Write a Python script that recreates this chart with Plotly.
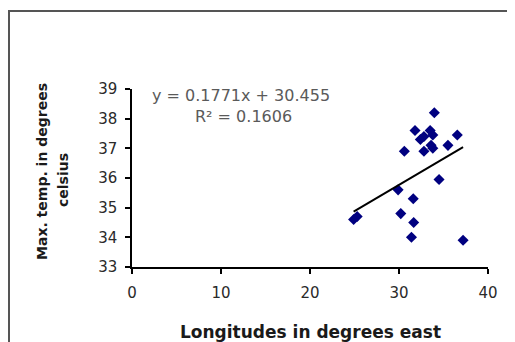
import plotly.graph_objects as go

# Data
longitude = [33.97, 31.8, 33.5, 32.8, 33.8, 32.4, 36.55, 35.5, 33.6, 32.8, 33.8,
             30.6, 34.5, 29.9, 31.6, 30.2, 31.65, 31.4, 37.2, 24.9, 25.3]
max_temp = [38.2, 37.6, 37.6, 37.4, 37.45, 37.3, 37.45, 37.1, 37.1, 36.9, 37.0,
            36.9, 35.95, 35.6, 35.3, 34.8, 34.5, 34.0, 33.9, 34.6, 34.7]
slope = 0.1771
intercept = 30.455
r_squared = 0.1606
x_ticks = [0, 10, 20, 30, 40]
y_ticks = [33, 34, 35, 36, 37, 38, 39]

x_min, x_max = min(longitude), max(longitude)
trend_x = [x_min, x_max]
trend_y = [slope * v + intercept for v in trend_x]

fig = go.Figure()
fig.add_trace(go.Scatter(
    x=longitude, y=max_temp, mode="markers",
    marker=dict(symbol="diamond", size=8.5, color="#000080",
                line=dict(width=0)),
    showlegend=False, cliponaxis=False))
fig.add_trace(go.Scatter(
    x=trend_x, y=trend_y, mode="lines",
    line=dict(color="black", width=2), showlegend=False))

# the page places the figure 8px in from the window's top-left corner
OFF = 8
W, H = 515 - OFF, 342 - OFF
ml, mr, mt, mb = 132 - OFF, 515 - 488, 89 - OFF, 342 - 267
pw, ph = W - ml - mr, H - mt - mb


def px_x(p):
    # window pixel -> paper coordinate
    return (p - OFF - ml) / pw


def px_y(p):
    return (H - mb - (p - OFF)) / ph


fig.update_layout(
    width=W, height=H,
    margin=dict(l=ml, r=mr, t=mt, b=mb, autoexpand=False),
    paper_bgcolor="white", plot_bgcolor="white",
    font=dict(family="DejaVu Sans", color="#222222", size=15),
    xaxis=dict(range=[0, 40], tickvals=x_ticks, showgrid=False, zeroline=False,
               showline=True, linecolor="black", linewidth=1.5, automargin=False,
               ticks="outside", ticklen=5, tickwidth=1.5, tickcolor="black",
               ticklabelstandoff=6,
               tickfont=dict(size=15, color="#2a2a2a")),
    yaxis=dict(range=[33, 39], tickvals=y_ticks, showgrid=False, zeroline=False,
               showline=True, linecolor="black", linewidth=1.5, automargin=False,
               ticks="outside", ticklen=5, tickwidth=1.5, tickcolor="black",
               ticklabelstandoff=5,
               tickfont=dict(size=15, color="#2a2a2a")),
)

# chart-area frame (top and left edges visible; right and bottom run off the image)
fig.add_shape(type="rect", xref="paper", yref="paper",
              x0=px_x(9), x1=px_x(530), y0=px_y(360), y1=px_y(11),
              line=dict(color="#555555", width=2), layer="below")

# axis titles
fig.add_annotation(x=px_x(310), y=px_y(332), xref="paper", yref="paper",
                   xanchor="center", yanchor="middle", showarrow=False,
                   text="<b>Longitudes in degrees east</b>",
                   font=dict(size=17, color="#1a1a1a"))
fig.add_annotation(x=px_x(42), y=px_y(172), xref="paper", yref="paper",
                   xanchor="center", yanchor="middle", showarrow=False, textangle=-90,
                   text="<b>Max. temp. in degrees</b>",
                   font=dict(size=14, color="#1a1a1a"))
fig.add_annotation(x=px_x(63), y=px_y(180), xref="paper", yref="paper",
                   xanchor="center", yanchor="middle", showarrow=False, textangle=-90,
                   text="<b>celsius</b>",
                   font=dict(size=14, color="#1a1a1a"))

# trendline equation
fig.add_annotation(x=px_x(241), y=px_y(95), xref="paper", yref="paper",
                   xanchor="center", yanchor="middle",
                   text=f"y = {slope}x + {intercept}", showarrow=False,
                   font=dict(size=16, color="#5a5a5a"))
fig.add_annotation(x=px_x(243), y=px_y(116), xref="paper", yref="paper",
                   xanchor="center", yanchor="middle",
                   text=f"R² = {r_squared}", showarrow=False,
                   font=dict(size=16, color="#5a5a5a"))

fig.write_html("out.html")
